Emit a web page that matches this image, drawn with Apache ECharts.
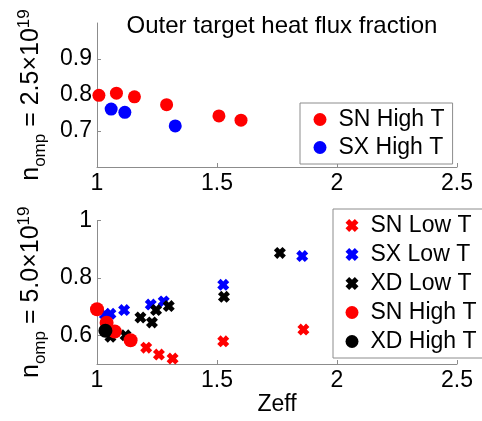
<!DOCTYPE html>
<html>
<head>
<meta charset="utf-8">
<script src="https://cdn.jsdelivr.net/npm/echarts@6/dist/echarts.min.js"></script>
<style>html,body{margin:0;padding:0;background:#fff}#c{width:482px;height:421px}</style>
</head>
<body>
<div id="c"></div>
<script>
// ---- data ----
const titleText = 'Outer target heat flux fraction';
const xTicks = [1, 1.5, 2, 2.5];
const topYTicks = [0.7, 0.8, 0.9];
const botYTicks = [0.6, 0.8, 1.0];

// top panel: n_omp = 2.5e19
const topSNHigh = [[1.008,0.799],[1.081,0.805],[1.156,0.795],[1.29,0.773],[1.508,0.742],[1.60,0.730]];
const topSXHigh = [[1.059,0.761],[1.116,0.752],[1.326,0.714]];

// bottom panel: n_omp = 5.0e19
const botSNLow = [[1.205,0.557],[1.258,0.533],[1.315,0.519],[1.526,0.579],[1.86,0.620]];
const botSXLow = [[1.033,0.673],[1.056,0.675],[1.113,0.688],[1.224,0.707],[1.278,0.718],[1.526,0.776],[1.855,0.876]];
const botXDLow = [[1.056,0.595],[1.119,0.600],[1.181,0.662],[1.229,0.645],[1.246,0.688],[1.299,0.702],[1.529,0.734],[1.762,0.887]];
const botSNHigh = [[1.0,0.691],[1.04,0.644],[1.074,0.613],[1.14,0.583]];
const botXDHigh = [[1.035,0.616]];

const FONT = '"Liberation Sans", Arial, Helvetica, sans-serif';
const AX = '#8c8c8c';
const XSYM = 'path://M0,2.8L2.8,0L5,2.2L7.2,0L10,2.8L7.8,5L10,7.2L7.2,10L5,7.8L2.8,10L0,7.2L2.2,5Z';

function xAxis(gi, name) {
  return {
    gridIndex: gi, type: 'value', min: 1, max: 2.5, interval: 0.5,
    axisLine: {show: true, onZero: false, lineStyle: {color: AX, width: 1}},
    axisTick: {show: true, inside: true, length: 4, lineStyle: {color: AX}, customValues: xTicks},
    axisLabel: {color: '#000', fontSize: 23, fontFamily: FONT, margin: 5, customValues: xTicks, formatter: v => String(v)},
    splitLine: {show: false},
    name: name || '', nameLocation: 'middle', nameGap: 27,
    nameTextStyle: {color: '#000', fontSize: 23, fontFamily: FONT}
  };
}
function yAxis(gi, min, max, ticks, label) {
  return {
    gridIndex: gi, type: 'value', min: min, max: max,
    axisLine: {show: true, onZero: false, lineStyle: {color: AX, width: 1}},
    axisTick: {show: true, inside: true, length: 4, lineStyle: {color: AX}, customValues: ticks},
    axisLabel: {color: '#000', fontSize: 23, fontFamily: FONT, margin: 5, customValues: ticks, formatter: v => String(Math.round(v*10)/10)},
    splitLine: {show: false},
    name: label, nameLocation: 'middle', nameGap: 38, nameRotate: 90,
    nameTextStyle: {
      color: '#000', fontFamily: FONT,
      rich: {
        n: {fontSize: 25, fontFamily: FONT, color: '#000', verticalAlign: 'middle', lineHeight: 36},
        sub: {fontSize: 17, fontFamily: FONT, color: '#000', verticalAlign: 'bottom', lineHeight: 36},
        sup: {fontSize: 17, fontFamily: FONT, color: '#000', verticalAlign: 'top', lineHeight: 36, padding: [3, 0, 0, 0]}
      }
    }
  };
}
function sc(name, data, gi, color, symbol, size) {
  return {
    name: name, type: 'scatter', xAxisIndex: gi, yAxisIndex: gi, data: data,
    symbol: symbol, symbolSize: size, itemStyle: {color: color, opacity: 1},
    emphasis: {disabled: true}, animation: false
  };
}
const legendBase = {
  orient: 'vertical', itemWidth: 27, itemHeight: 13, symbolKeepAspect: true,
  borderColor: '#8c8c8c', borderWidth: 1, borderRadius: 0, backgroundColor: '#fff',
  textStyle: {color: '#000', fontSize: 23, fontFamily: FONT, padding: [0,0,0,0]},
  selectedMode: false
};

const chart = echarts.init(document.getElementById('c'), null, {renderer: 'canvas'});
chart.setOption({
  animation: false,
  backgroundColor: '#fff',
  title: {text: titleText, left: 277, top: 9, textAlign: 'center',
    textStyle: {fontSize: 24, fontWeight: 'normal', color: '#000', fontFamily: FONT}},
  grid: [
    {left: 97, right: 25, top: 23, height: 144},
    {left: 97, right: 25, top: 220.5, height: 143.5}
  ],
  xAxis: [xAxis(0), xAxis(1, 'Zeff')],
  yAxis: [
    yAxis(0, 0.6, 1.0, topYTicks, '{n|n}{sub|omp}{n| = 2.5×10}{sup|19}'),
    yAxis(1, 0.5, 1.0, botYTicks, '{n|n}{sub|omp}{n| = 5.0×10}{sup|19}')
  ],
  legend: [
    Object.assign({}, legendBase, {left: 300, top: 103, padding: [5, 8, 5, 13.5], itemGap: 5,
      data: [{name: 'SN High T', icon: 'circle'}, {name: 'SX High T', icon: 'circle'}]}),
    Object.assign({}, legendBase, {left: 333, top: 209, padding: [5, 40, 5, 12.5], itemGap: 6,
      data: [{name: 'SN Low T', icon: XSYM, itemHeight: 10}, {name: 'SX Low T', icon: XSYM, itemHeight: 10}, {name: 'XD Low T', icon: XSYM, itemHeight: 10},
             {name: 'SN High T', icon: 'circle'}, {name: 'XD High T', icon: 'circle'}]})
  ],
  series: [
    sc('SN High T', topSNHigh, 0, '#ff0000', 'circle', 13),
    sc('SX High T', topSXHigh, 0, '#0000ff', 'circle', 13),
    sc('SN Low T', botSNLow, 1, '#ff0000', XSYM, 12),
    sc('SX Low T', botSXLow, 1, '#0000ff', XSYM, 12),
    sc('XD Low T', botXDLow, 1, '#000000', XSYM, 12),
    sc('SN High T', botSNHigh, 1, '#ff0000', 'circle', 14),
    sc('XD High T', botXDHigh, 1, '#000000', 'circle', 14)
  ]
});
</script>
</body>
</html>
